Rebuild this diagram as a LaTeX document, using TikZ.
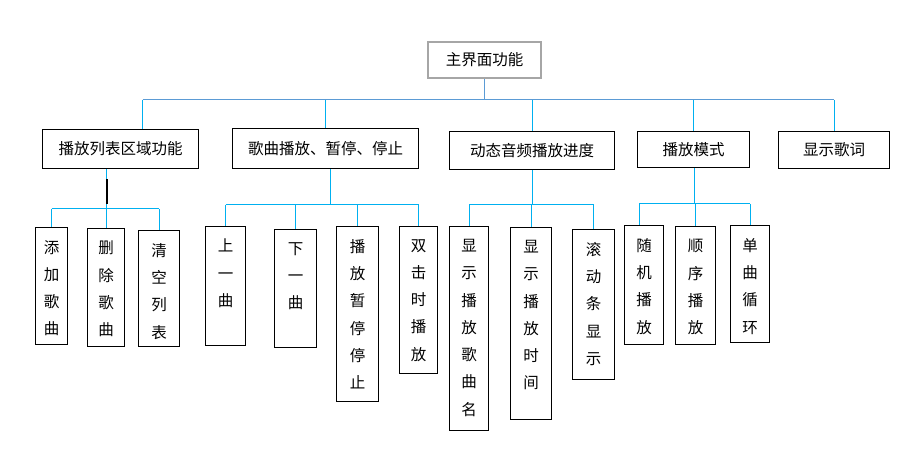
\documentclass[tikz,border=0pt]{standalone}
\usepackage{fontspec}
\newfontfamily\cjk{Noto Sans CJK SC}
\definecolor{busblue}{RGB}{91,155,213}
\definecolor{linkblue}{RGB}{0,176,240}
\definecolor{rootgray}{RGB}{166,166,166}
\tikzset{
    rootbox/.style={draw=rootgray, line width=2.2pt, anchor=north west, inner sep=0pt,
        font=\cjk\fontsize{15.5}{18}\selectfont},
    catbox/.style={draw, line width=1pt, anchor=north west, inner sep=0pt,
        font=\cjk\fontsize{15.5}{18}\selectfont},
    leafbox/.style={draw, line width=1pt, anchor=north west, inner sep=0pt},
    vtext/.style={anchor=north, inner sep=0pt, align=center,
        font=\cjk\fontsize{15.5}{27.3}\selectfont},
    busline/.style={draw=busblue, line width=1pt},
    link/.style={draw=linkblue, line width=1pt}
}
\begin{document}
\begin{tikzpicture}[x=1pt, y=-1pt]
    \useasboundingbox[fill=white] (0,0) rectangle (924,457);
    % root and first level
    \node[rootbox, minimum width=113pt, minimum height=36pt] (root) at (427,41) {主界面功能};
    \node[catbox, minimum width=156pt, minimum height=39pt] (list) at (42,129) {播放列表区域功能};
    \node[catbox, minimum width=186pt, minimum height=40pt] (song) at (232,128) {歌曲播放、暂停、停止};
    \node[catbox, minimum width=165pt, minimum height=38pt] (prog) at (449,131) {动态音频播放进度};
    \node[catbox, minimum width=112pt, minimum height=36pt] (mode) at (637,131) {播放模式};
    \node[catbox, minimum width=111pt, minimum height=37pt] (lyric) at (778,131) {显示歌词};

    % leaves
    \node[leafbox, minimum width=32pt, minimum height=117pt] (add) at (35,227) {};
    \node[leafbox, minimum width=37pt, minimum height=118pt] (del) at (87,228) {};
    \node[leafbox, minimum width=41pt, minimum height=116pt] (clear) at (138,230) {};
    \node[leafbox, minimum width=40pt, minimum height=119pt] (prev) at (205,226) {};
    \node[leafbox, minimum width=42pt, minimum height=118pt] (next) at (274,229) {};
    \node[leafbox, minimum width=42pt, minimum height=175pt] (pause) at (336,226) {};
    \node[leafbox, minimum width=38pt, minimum height=147pt] (dbl) at (399,226) {};
    \node[leafbox, minimum width=39pt, minimum height=204pt] (title) at (449,226) {};
    \node[leafbox, minimum width=41pt, minimum height=192pt] (time) at (510,227) {};
    \node[leafbox, minimum width=42pt, minimum height=150pt] (scroll) at (572,229) {};
    \node[leafbox, minimum width=39pt, minimum height=119pt] (rand) at (624,225) {};
    \node[leafbox, minimum width=40pt, minimum height=118pt] (order) at (675,226) {};
    \node[leafbox, minimum width=39pt, minimum height=117pt] (loop) at (730,225) {};

    \node[vtext] (addt) at ([yshift=-13pt]add.north) {添\\加\\歌\\曲};
    \node[vtext] (delt) at ([yshift=-13pt]del.north) {删\\除\\歌\\曲};
    \node[vtext] (cleart) at ([yshift=-13pt]clear.north) {清\\空\\列\\表};
    \node[vtext] (prevt) at ([yshift=-13pt]prev.north) {上\\一\\曲};
    \node[vtext] (nextt) at ([yshift=-13pt]next.north) {下\\一\\曲};
    \node[vtext] (pauset) at ([yshift=-13pt]pause.north) {播\\放\\暂\\停\\停\\止};
    \node[vtext] (dblt) at ([yshift=-13pt]dbl.north) {双\\击\\时\\播\\放};
    \node[vtext] (titlet) at ([yshift=-13pt]title.north) {显\\示\\播\\放\\歌\\曲\\名};
    \node[vtext] (timet) at ([yshift=-13pt]time.north) {显\\示\\播\\放\\时\\间};
    \node[vtext] (scrollt) at ([yshift=-13pt]scroll.north) {滚\\动\\条\\显\\示};
    \node[vtext] (randt) at ([yshift=-13pt]rand.north) {随\\机\\播\\放};
    \node[vtext] (ordert) at ([yshift=-13pt]order.north) {顺\\序\\播\\放};
    \node[vtext] (loopt) at ([yshift=-13pt]loop.north) {单\\曲\\循\\环};

    % top bus
    \coordinate (bus0) at (0,100);
    \coordinate (liststem) at ([xshift=22pt]list.north);
    \draw[busline] (root.south) -- (root.south |- bus0);
    \draw[busline] (liststem |- bus0) -- (lyric.north |- bus0);
    \foreach \c in {liststem,song.north,prog.north,mode.north,lyric.north}
        \draw[link] (\c |- bus0) -- (\c);

    % group buses
    \coordinate (bus1) at (0,209);
    \coordinate (bus2) at (0,205);
    \coordinate (bus3) at (0,205);
    \coordinate (bus4) at (0,204);
    \coordinate (g1) at ([xshift=-14pt]list.south);
    \coordinate (g2) at ([xshift=5pt]song.south);
    \coordinate (g3) at (prog.south);
    \coordinate (g4) at ([xshift=1pt]mode.south);
    \coordinate (randstem) at ([xshift=-5pt]rand.north);
    \draw[link] (g1) -- (g1 |- bus1);
    \draw[link] (g2) -- (g2 |- bus2);
    \draw[link] (g3) -- (g3 |- bus3);
    \draw[link] (g4) -- (g4 |- bus4);
    \draw[line width=2pt] ([yshift=-10pt]g1) -- ([yshift=5pt]g1 |- bus1);
    \draw[link] (add.north |- bus1) -- (clear.north |- bus1);
    \draw[link] (prev.north |- bus2) -- (dbl.north |- bus2);
    \draw[link] (title.north |- bus3) -- (scroll.north |- bus3);
    \draw[link] (randstem |- bus4) -- (loop.north |- bus4);
    \foreach \c in {add,del,clear} \draw[link] (\c.north |- bus1) -- (\c.north);
    \foreach \c in {prev,next,pause,dbl} \draw[link] (\c.north |- bus2) -- (\c.north);
    \foreach \c in {title,time,scroll} \draw[link] (\c.north |- bus3) -- (\c.north);
    \foreach \c in {randstem,order.north,loop.north} \draw[link] (\c |- bus4) -- (\c);
\end{tikzpicture}
\end{document}
